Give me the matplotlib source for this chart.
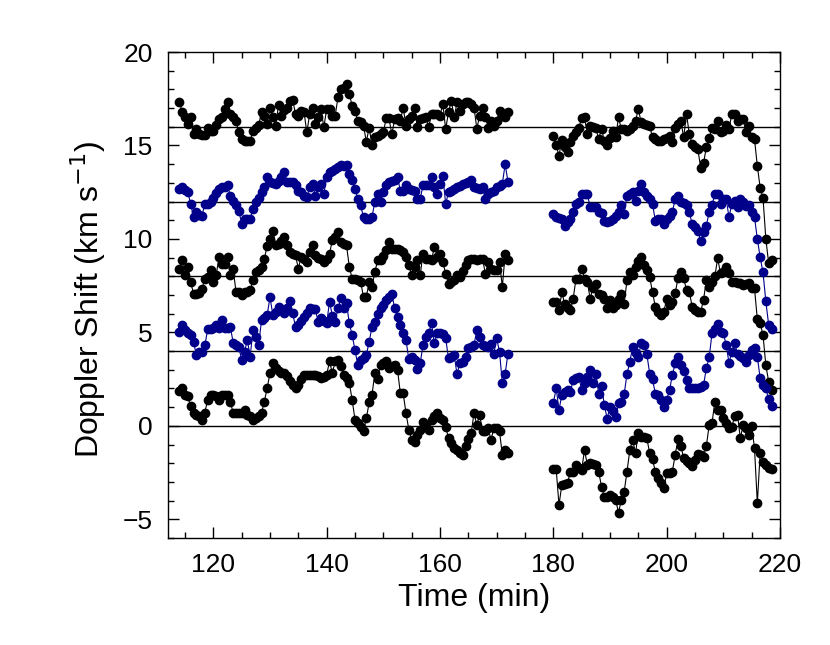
import numpy as np
import matplotlib
matplotlib.use("Agg")
import matplotlib.pyplot as plt
from matplotlib.ticker import MultipleLocator

plt.rcParams["font.family"] = ["Liberation Sans", "DejaVu Sans"]

# sampling of the two observing runs (min)
SEG1_START = 114.0
SEG2_START = 180.0
CADENCE = 0.5

# vertical offsets applied to each trace (km/s)
OFFSETS = [16, 12, 8, 4, 0]
COLORS = ["black", "#00008b", "black", "#00008b", "black"]

# raw Doppler shifts (km/s), first run
A1 = [1.34, 0.8, 0.5, 0.15, 0.5, -0.4, -0.13, -0.4, -0.45, -0.45, -0.04, -0.2, -0.2, 0.1, 0.4, 0.5,
      0.95, 1.3, 0.7, 0.5, 0.3, -0.3, -0.66, -0.75, -0.75, -0.75, -0.2, -0.04, 0.1, 0.77, 0.6, 0.15,
      1.0, 0.5, 0.05, 1.16, 0.6, 0.9, 1.03, 1.4, 1.45, 0.68, 0.6, 0.86, 0.8, -0.3, 0.68, 1.03, 0.14,
      0.5, 0.95, -0.03, 0.95, 0.95, 0.6, 0.6, 1.57, 2.0, 2.1, 2.28, 1.75, 1.12, 0.86, 0.32, 0.23,
      0.05, -0.8, -0.04, -1.0, -0.57, -0.48, -0.4, -0.3, 0.45, 0.45, -0.4, 0.4, 0.45, 0.32, 1.03,
      0.05, 0.4, 0.6, 1.03, -0.03, 0.4, 0.45, 0.5, -0.03, 0.68, 0.68, 0.68, 0.6, 1.2, -0.12, 0.77,
      1.4, 0.5, 1.3, 0.86, 1.2, 1.34, 1.3, 1.2, 1.03, -0.1, 0.6, 1.03, 0.5, -0.04, 0.32, 0.05, 0.3,
      0.86, 0.6, 0.5, 0.77]
B1 = [0.68, 0.77, 0.6, 0.5, -0.13, -0.84, -0.57, -0.7, -0.75, -0.13, -0.13, -0.04, 0.2, 0.46, 0.68,
      0.77, 0.8, 0.86, 0.32, 0.05, -0.2, -0.48, -1.2, -0.93, -0.93, -0.93, -0.39, -0.04, 0.2, 0.5,
      0.77, 1.3, 1.04, 1.0, 0.95, 1.1, 1.3, 1.57, 1.07, 1.04, 1.04, 0.86, 0.59, 0.5, 0.3, 0.23, 0.77,
      0.95, 0.32, 0.77, 0.95, 0.41, 1.3, 1.57, 1.65, 1.75, 1.84, 1.93, 1.9, 1.93, 1.48, 1.13, 0.68,
      0.14, -0.21, -0.84, -0.93, -0.93, -0.84, 0.0, 0.41, -0.04, 0.5, 0.86, 1.04, 1.1, 1.13, 1.3,
      0.59, 0.59, 0.86, 0.68, 0.6, 0.59, 0.14, 0.14, 0.86, 0.86, 0.9, 1.3, 0.77, 0.41, 0.95, 1.39,
      -0.13, 0.5, 0.59, 0.65, 0.77, 0.85, 0.95, 1.0, 1.04, 1.13, 0.77, 0.7, 0.68, 0.77, 0.14, 0.41,
      0.5, 0.59, 0.77, 0.85, 0.95, 2.0, 1.04]
C1 = [0.41, 0.86, 0.05, 0.5, -0.3, -0.93, -0.93, -0.89, -0.66, -0.13, -0.04, 0.32, -0.3, 0.05, 1.04,
      0.68, 0.68, 1.04, 0.05, 0.41, -0.84, -0.84, -1.02, -0.84, -0.84, -0.75, -0.21, 0.23, 0.32, 0.5,
      0.95, 1.6, 2.0, 2.43, 1.66, 1.75, 1.9, 2.1, 1.66, 1.3, 1.2, 1.13, 0.41, 1.04, 0.9, 0.77, 1.3,
      1.66, 1.13, 1.0, 0.95, 0.77, 0.9, 1.21, 1.93, 2.1, 2.38, 1.84, 1.75, 1.66, 0.5, -0.13, -0.15,
      -0.21, -0.3, -1.1, -1.1, -0.3, -0.57, 0.23, 0.86, 0.86, 1.1, 1.39, 1.84, 1.48, 1.48, 1.45,
      1.39, 1.3, 1.04, 0.6, 0.05, 0.5, 0.86, 0.05, 1.21, 0.95, 0.9, 0.86, 1.57, 1.04, 1.21, 0.77,
      0.14, -0.39, -0.3, -0.21, 0.05, -0.04, 0.3, 0.59, 0.86, 0.9, 0.95, 0.86, 0.9, 0.95, 0.14, 0.77,
      0.41, 0.35, 0.32, 0.77, -0.57, 1.21, 0.86]
D1 = [1.04, 1.39, 1.13, 0.95, 0.86, 0.5, -0.21, -0.04, -0.04, 0.3, 1.16, 1.2, 1.21, 1.39, 1.21, 1.66,
      1.21, 1.25, 1.3, 0.45, 0.3, 0.23, -0.48, -0.04, 0.59, -0.3, 1.13, 0.77, 0.32, 1.66, 1.75, 1.93,
      2.88, 1.93, 2.1, 2.34, 2.2, 2.05, 2.3, 2.7, 2.02, 1.3, 1.39, 1.6, 1.84, 2.05, 2.29, 2.25, 2.23,
      1.57, 1.75, 1.6, 1.48, 2.64, 1.9, 1.57, 2.29, 2.82, 2.29, 2.55, 1.48, 0.86, 0.05, -0.75, -0.48,
      -0.35, -0.21, 0.5, 1.3, 1.57, 2.0, 2.3, 2.46, 2.73, 2.9, 3.05, 2.29, 1.84, 1.39, 0.95, 0.59,
      -0.45, -0.3, -0.5, -0.98, -0.66, 0.32, 0.77, 0.95, 1.48, 0.41, 0.95, 0.95, 0.9, 0.68, -0.39,
      -0.3, -0.21, -1.23, -0.66, -0.57, -0.3, 0.14, 0.2, 0.32, 1.13, 0.77, 0.32, 0.25, 0.23, 0.38,
      -0.13, 0.68, -0.04, -1.7, -1.2, -0.13]
E1 = [1.84, 2.02, 1.66, 1.57, 1.04, 0.68, 0.6, 0.5, 0.32, 0.71, 1.39, 1.66, 1.66, 1.6, 1.39, 1.66,
      1.66, 1.66, 1.3, 0.68, 0.68, 0.68, 0.7, 0.86, 0.59, 0.5, 0.32, 0.41, 0.55, 0.68, 1.3, 2.02,
      2.82, 3.36, 3.09, 2.91, 2.85, 2.82, 2.64, 2.38, 2.2, 2.02, 2.2, 2.5, 2.73, 2.73, 2.73, 2.73,
      2.73, 2.65, 2.55, 2.6, 2.73, 3.45, 2.82, 3.45, 3.54, 3.18, 2.73, 2.55, 2.29, 1.39, 0.32, 0.14,
      -0.04, -0.3, 0.41, 1.25, 1.66, 2.82, 2.5, 3.27, 3.35, 3.45, 3.09, 3.2, 3.27, 3.0, 1.75, 1.75,
      0.68, -0.21, -0.75, -0.84, -0.5, -0.21, 0.23, 0.0, -0.21, 0.32, 0.5, 0.68, 0.41, 0.32, -0.04,
      -0.66, -0.9, -1.2, -1.3, -1.46, -1.55, -1.1, -0.7, -0.39, 0.68, 0.05, 0.59, -0.3, -0.3, -0.13,
      -0.75, -0.13, -0.13, -0.3, -1.55, -1.29, -1.46]

# raw Doppler shifts (km/s), second run
A2 = [-0.48, -1.0, -1.55, -0.7, -1.1, -1.37, -0.84, -0.48, -0.3, -0.04, 0.45, 0.5, -0.4, 0.05, 0.0,
      -0.04, -0.66, -0.12, -0.75, -1.0, -0.6, -0.2, -0.57, 0.5, -0.12, -0.1, -0.2, -0.1, 0.05, 0.32,
      0.95, 0.23, 0.14, 0.1, 0.05, -0.57, -0.66, -0.75, -0.75, -0.66, -0.6, -0.48, -0.84, -0.04, 0.14,
      0.32, -0.57, 0.68, -0.4, -0.93, -1.1, -1.2, -2.18, -1.95, -1.1, -0.62, -0.04, -0.1, 0.32, -0.3,
      -0.2, 0.1, -0.12, 0.68, 0.68, 0.32, 0.4, 0.4, -0.3, 0.05, -0.57, -0.66, -2.1, -3.27, -3.8,
      -6.0, -7.3, -7.13]
B2 = [-0.66, -0.84, -0.9, -0.93, -1.3, -1.1, -0.93, -0.57, -0.13, -0.04, 0.41, 0.41, 0.41, -0.3, -0.3,
      -0.3, -0.57, -0.6, -1.02, -1.1, -1.05, -0.93, -0.75, -0.57, -0.21, -0.66, 0.32, 0.4, 0.5, 0.05,
      0.59, 0.95, 0.5, 0.3, 0.14, -0.13, -1.02, -0.93, -0.93, -1.2, -0.93, -0.75, -0.57, 0.14, 0.29,
      -0.04, -0.1, -0.21, -0.57, -1.2, -1.38, -1.55, -2.1, -1.64, -1.29, -0.57, -0.21, 0.41, 0.41,
      -0.13, 0.14, 0.14, -0.84, -0.13, 0.05, -0.3, 0.14, 0.0, -0.25, -0.21, -0.57, -0.84, -2.0, -2.98,
      -3.79, -5.34, -6.6, -6.82]
C2 = [-1.38, -1.38, -1.82, -0.84, -1.5, -1.68, -1.82, -1.2, -0.13, -0.13, 0.41, -0.13, -0.3, -1.2,
      -0.6, -0.39, -0.93, -1.0, -1.2, -1.68, -1.29, -1.68, -1.55, -1.2, -0.93, -1.46, -0.21, 0.23,
      0.05, 0.5, 0.8, 1.04, 0.6, 0.32, -0.04, -0.84, -1.64, -1.91, -2.09, -1.9, -1.2, -1.55, -1.36,
      -0.9, -0.1, 0.25, -0.1, -0.73, -0.82, -1.63, -1.8, -1.9, -1.9, -1.27, -0.2, -0.56, -0.3, 0.0,
      0.96, 0.16, 0.25, 0.5, 0.16, -0.3, -0.3, -0.38, -0.38, -0.47, -0.4, -0.38, -0.65, -0.65, -2.3,
      -2.5, -3.14, -4.75, -5.64, -6.1]
D2 = [-2.77, -2.0, -3.13, -2.36, -2.2, -2.09, -2.18, -1.55, -1.45, -1.38, -2.09, -1.7, -1.38, -1.02,
      -1.7, -1.23, -2.27, -1.86, -2.89, -3.61, -2.98, -3.2, -3.52, -2.8, -2.7, -2.3, -1.23, -0.57,
      0.23, -0.1, -0.3, 0.41, 0.3, -0.16, -1.2, -1.52, -2.27, -2.36, -2.6, -2.98, -2.6, -2.09, -1.29,
      -0.66, -0.34, -0.75, -1.05, -1.55, -1.95, -2.0, -2.0, -1.95, -1.9, -1.82, -0.93, -0.34, 0.95,
      1.16, 1.45, 1.04, 0.98, 0.32, -0.63, -0.04, 0.41, -0.13, -0.25, -0.39, -0.57, -0.2, 0.05, 0.14,
      -0.3, -1.46, -1.82, -2.0, -2.59, -2.95]
E2 = [-2.32, -2.32, -4.23, -3.16, -3.1, -3.07, -2.45, -2.45, -2.09, -2.27, -2.36, -1.29, -2.09, -2.0,
      -2.05, -2.09, -2.45, -3.25, -3.79, -3.79, -3.7, -3.8, -3.96, -4.64, -3.96, -3.52, -2.45, -1.29,
      -0.75, -1.46, -0.39, -0.57, -0.6, -0.66, -1.46, -1.79, -2.45, -2.8, -3.07, -3.34, -2.54, -2.5,
      -2.45, -1.55, -0.71, -1.07, -1.73, -1.9, -2.0, -2.13, -1.82, -1.5, -1.55, -1.64, -1.1, 0.05,
      0.14, 1.3, 0.86, 0.86, 0.41, 0.14, -0.13, -0.04, 0.5, 0.59, -0.66, 0.05, -0.13, -0.48, 0.0,
      -1.2, -4.14, -1.46, -1.91, -2.09, -2.27, -2.3]

RUN1 = [A1, B1, C1, D1, E1]
RUN2 = [A2, B2, C2, D2, E2]


def times(start, values):
    return start + CADENCE * np.arange(len(values))


def plot_traces(ax):
    for off in OFFSETS:
        ax.axhline(off, color="black", lw=1.0, zorder=1)
    for v1, v2, off, col in zip(RUN1, RUN2, OFFSETS, COLORS):
        for start, v in ((SEG1_START, v1), (SEG2_START, v2)):
            ax.plot(times(start, v), np.array(v) + off, "-o", color=col, lw=0.8,
                    ms=6, mec=col, mfc=col, zorder=2)


def style_axes(ax):
    ax.set_xlim(112, 220)
    ax.set_ylim(-6, 20)
    ax.xaxis.set_major_locator(MultipleLocator(20))
    ax.xaxis.set_minor_locator(MultipleLocator(5))
    ax.yaxis.set_major_locator(MultipleLocator(5))
    ax.yaxis.set_minor_locator(MultipleLocator(1))
    ax.tick_params(which="both", direction="in", top=True, right=True, width=1.0)
    ax.tick_params(which="major", length=8, labelsize=19, pad=11)
    ax.tick_params(which="minor", length=4)
    for s in ax.spines.values():
        s.set_linewidth(1.0)
    ax.set_xlabel("Time (min)", fontsize=23)
    ax.set_ylabel(r"Doppler Shift (km s$^{-1}$)", fontsize=23)
    ax.xaxis.set_label_coords(0.5, -0.093)
    ax.yaxis.set_label_coords(-0.098, 0.49)


fig = plt.figure(figsize=(8.3, 6.45), dpi=100)
ax = fig.add_axes([168 / 830, 107 / 645, 612 / 830, 486 / 645])
plot_traces(ax)
style_axes(ax)
fig.savefig("out.png", dpi=100)
